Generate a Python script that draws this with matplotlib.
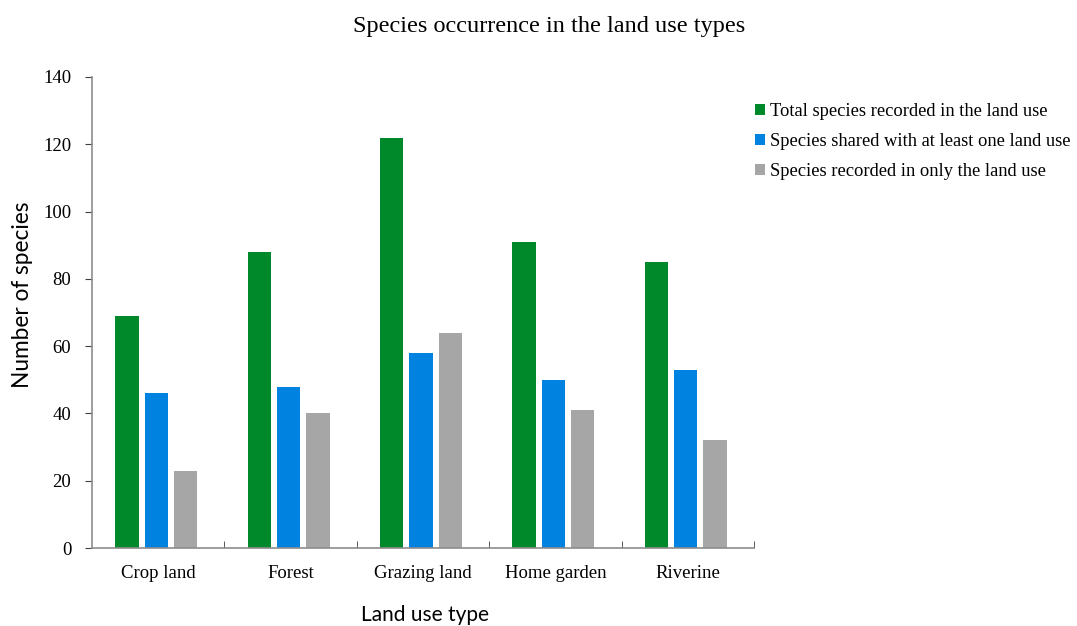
import numpy as np
import matplotlib
matplotlib.use('Agg')
from matplotlib import pyplot as plt

# data
categories = ['Crop land', 'Forest', 'Grazing land', 'Home garden', 'Riverine']
total_species = [69, 88, 122, 91, 85]
shared_species = [46, 48, 58, 50, 53]
only_species = [23, 40, 64, 41, 32]
series_labels = ['Total species recorded in the land use',
                 'Species shared with at least one land use',
                 'Species recorded in only the land use']
colors = ['#00892B', '#0082E0', '#A6A6A6']

serif = 'Liberation Serif'
sans = 'Lato'

fig = plt.figure(figsize=(10.77, 6.26), dpi=100)
ax = fig.add_axes([0.0855, 0.1246, 0.6145, 0.7524])

x = np.arange(len(categories))
width = 0.177
step = 0.222
for i, (vals, lab, c) in enumerate(zip([total_species, shared_species, only_species],
                                       series_labels, colors)):
    ax.bar(x + (i - 1) * step - 0.015, vals, width, color=c, label=lab)

ax.set_xlim(-0.5, len(categories) - 0.5)
ax.set_ylim(0, 140)
ax.set_yticks(range(0, 141, 20))
ax.set_xticks(x)
ax.set_xticklabels(categories, fontfamily=serif, fontsize=13.5)
ax.set_xticks(np.arange(0.5, len(categories), 1), minor=True)
ax.tick_params(axis='x', which='major', length=0, pad=12)
ax.tick_params(axis='x', which='minor', direction='in', length=5, color='#404040')
ax.tick_params(axis='y', direction='out', length=5, color='#404040', pad=10)
for t in ax.get_yticklabels():
    t.set_fontfamily(serif)
    t.set_fontsize(13.5)

for s in ['top', 'right']:
    ax.spines[s].set_visible(False)
for s in ['left', 'bottom']:
    ax.spines[s].set_color('#8C8C8C')
    ax.spines[s].set_linewidth(1.2)

# axis titles placed in figure coords
fig.text(23 / 1077, 1 - 295 / 626, 'Number of species', rotation=90,
         ha='center', va='center', fontfamily=sans, fontsize=16.3)
fig.text(0.395, 0.001, 'Land use type', ha='center', va='bottom',
         fontfamily=sans, fontsize=15)

fig.text(0.51, 0.957, 'Species occurrence in the land use types',
         ha='center', va='center', fontfamily=serif, fontsize=17.5)

leg = ax.legend(loc='upper left', bbox_to_anchor=(1.0015, 0.945), frameon=False,
                borderaxespad=0, borderpad=0,
                prop={'family': serif, 'size': 13.3}, handlelength=0.55,
                handleheight=0.55, handletextpad=0.28, labelspacing=0.7)

fig.savefig('out.png', dpi=100)
